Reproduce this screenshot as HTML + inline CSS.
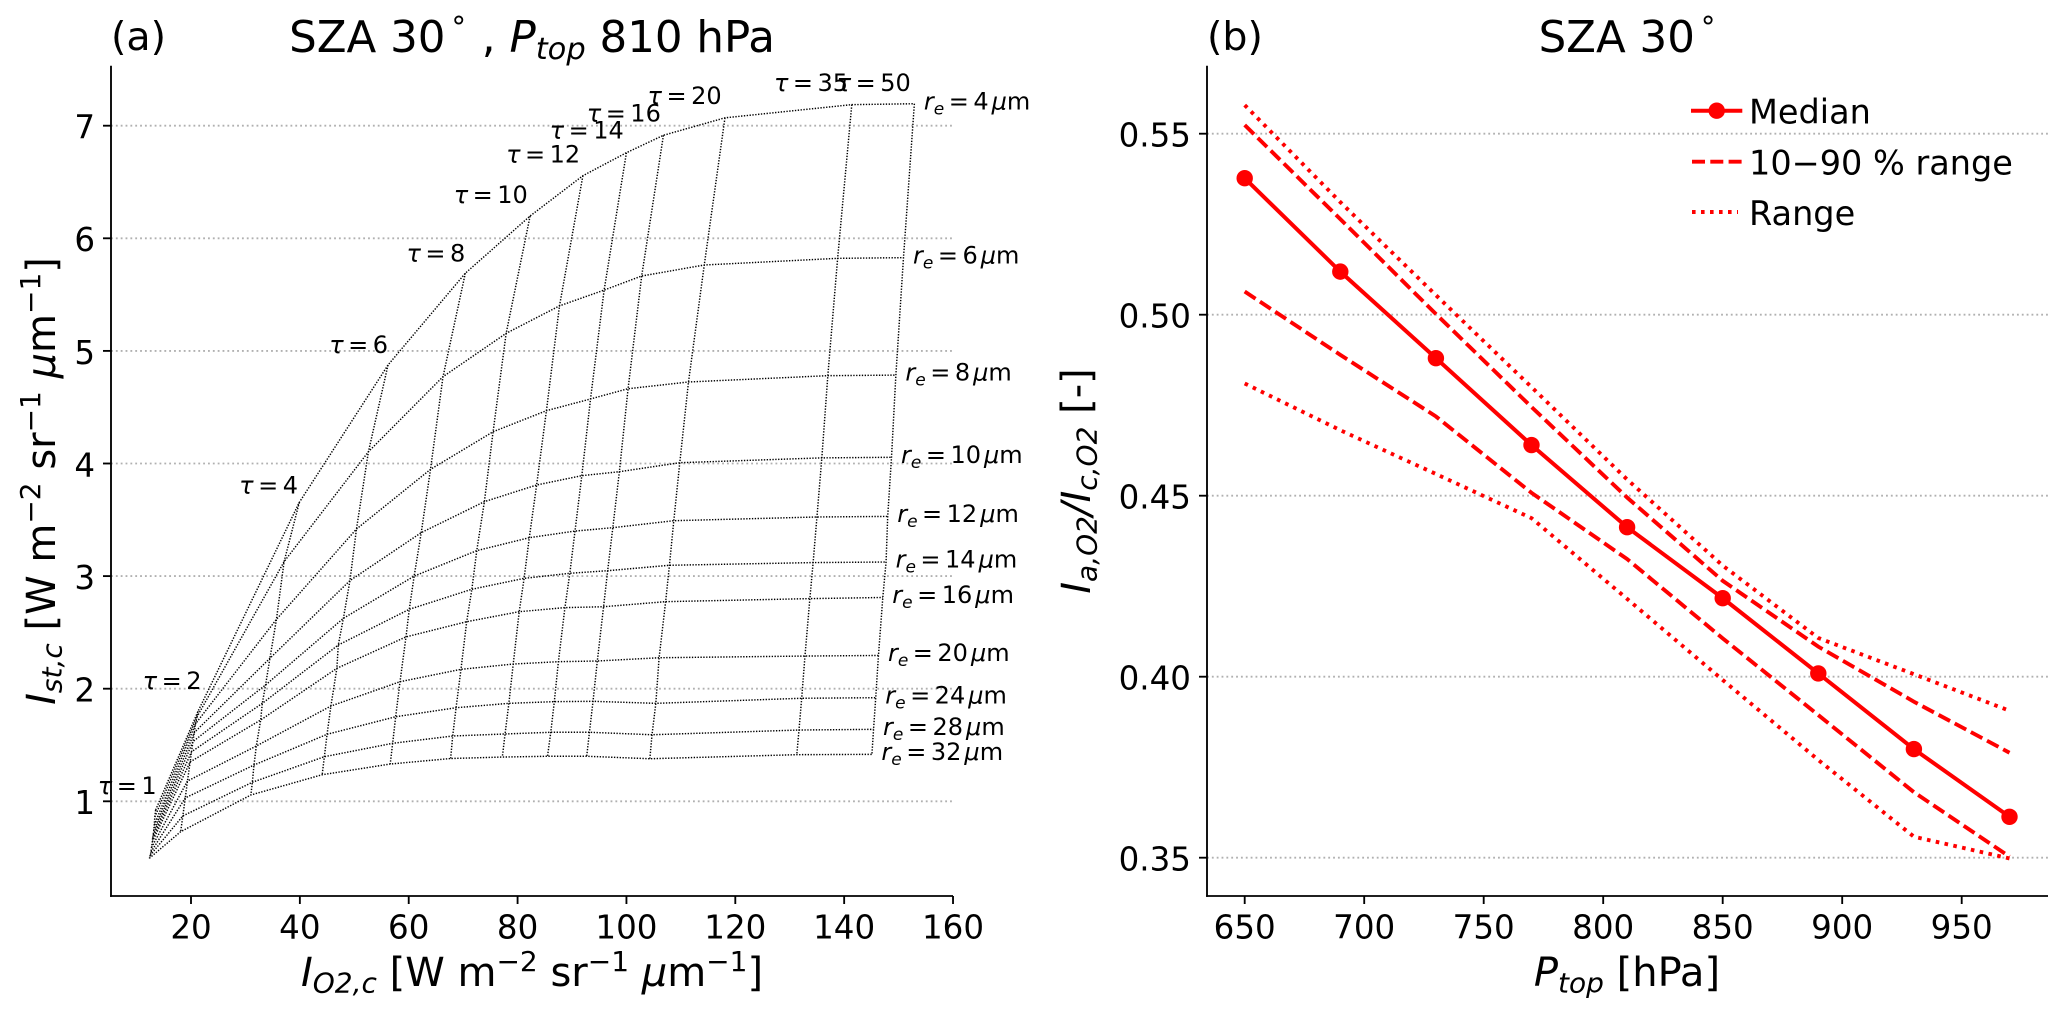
<!DOCTYPE html>
<html lang="en">
<head>
<meta charset="utf-8">
<title>SZA 30 charts</title>
<style>
html,body{margin:0;padding:0;background:#fff;}
svg{display:block;font-family:"DejaVu Sans","Liberation Sans",sans-serif;}
.i{font-style:italic;}
</style>
</head>
<body>
<svg id="figure" width="2067" height="1019" viewBox="0 0 2067 1019" xmlns="http://www.w3.org/2000/svg">
  <rect x="0" y="0" width="2067" height="1019" fill="#fff"/>
  <g id="panel-a"></g>
  <g id="panel-b"></g>

  <text x="111" y="50" font-size="39.5">(a)</text>
  <text x="532" y="52" font-size="43.5" text-anchor="middle">SZA 30<tspan font-size="29" dx="6" dy="-15">°</tspan><tspan dy="15" dx="2"> , </tspan><tspan class="i">P</tspan><tspan class="i" font-size="30.5" dy="7">top</tspan><tspan dy="-7"> 810 hPa</tspan></text>
  <text x="1207" y="50" font-size="39.5">(b)</text>
  <text x="1627" y="52" font-size="43.5" text-anchor="middle">SZA 30<tspan font-size="29" dx="6" dy="-15">°</tspan></text>

  <text x="532" y="986" font-size="40" text-anchor="middle"><tspan class="i">I</tspan><tspan class="i" font-size="28" dy="6.5">O2,c</tspan><tspan dy="-6.5"> [W m</tspan><tspan font-size="28" dy="-15">−2</tspan><tspan dy="15"> sr</tspan><tspan font-size="28" dy="-15">−1</tspan><tspan dy="15"> </tspan><tspan class="i">μ</tspan><tspan>m</tspan><tspan font-size="28" dy="-15">−1</tspan><tspan dy="15">]</tspan></text>
  <text transform="translate(55,481) rotate(-90)" font-size="40" text-anchor="middle"><tspan class="i">I</tspan><tspan class="i" font-size="28" dy="6.5">st,c</tspan><tspan dy="-6.5"> [W m</tspan><tspan font-size="28" dy="-15">−2</tspan><tspan dy="15"> sr</tspan><tspan font-size="28" dy="-15">−1</tspan><tspan dy="15"> </tspan><tspan class="i">μ</tspan><tspan>m</tspan><tspan font-size="28" dy="-15">−1</tspan><tspan dy="15">]</tspan></text>
  <text x="1627" y="986" font-size="40" text-anchor="middle"><tspan class="i">P</tspan><tspan class="i" font-size="28" dy="6.5">top</tspan><tspan dy="-6.5"> [hPa]</tspan></text>
  <text transform="translate(1090,481) rotate(-90)" font-size="40" text-anchor="middle"><tspan class="i">I</tspan><tspan class="i" font-size="28" dy="6.5">a,O2</tspan><tspan class="i" dy="-6.5">/I</tspan><tspan class="i" font-size="28" dy="6.5">c,O2</tspan><tspan dy="-6.5"> [-]</tspan></text>
</svg>
<script>
// ---------- Panel (a) data ----------
const tauValues = [1, 2, 4, 6, 8, 10, 12, 14, 16, 20, 35, 50];
const reValues = [4, 6, 8, 10, 12, 14, 16, 20, 24, 28, 32];
// I_O2,c per effective radius (rows) and optical depth (columns)
const iO2 = [
  [13.5, 21.3, 39.9, 56.2, 70.4, 82.3, 92, 100, 106.8, 118.1, 141.4, 152.9],
  [13.35, 21.1, 37.1, 52.6, 66.3, 77.9, 87.7, 95.9, 102.8, 114.3, 138.8, 150.9],
  [13.25, 20.85, 35.7, 50.4, 64, 75.5, 85.3, 93.4, 100.3, 111.4, 137, 149.5],
  [13.15, 20.6, 34.5, 49.2, 62.3, 73.9, 83.5, 91.8, 98.7, 109.8, 135.9, 148.7],
  [13.05, 20.35, 33.7, 48, 61, 72.5, 82.15, 90.55, 97.5, 108.7, 135, 148],
  [12.95, 20.1, 33.1, 47.06, 60.1, 71.6, 81.2, 89.6, 96.55, 107.9, 134.3, 147.7],
  [12.9, 19.85, 32.8, 46.8, 59.5, 70.65, 80.3, 88.7, 95.8, 107.2, 133.7, 147.1],
  [12.75, 19.35, 32, 45.7, 58.4, 69.6, 79.2, 87.5, 94.65, 106, 132.8, 146.3],
  [12.65, 18.95, 31.57, 45, 57.6, 68.7, 78.4, 86.75, 93.86, 105.4, 132.2, 145.8],
  [12.5, 18.5, 31.27, 44.5, 57.05, 68.08, 77.7, 86.1, 93.2, 104.7, 131.7, 145.4],
  [12.34, 18.1, 31, 44.1, 56.6, 67.7, 77.2, 85.5, 92.7, 104.3, 131.3, 145.1]
];
// I_st,c per effective radius (rows) and optical depth (columns)
const iSt = [
  [0.923, 1.80, 3.655, 4.875, 5.69, 6.198, 6.556, 6.76, 6.915, 7.07, 7.187, 7.195],
  [0.86, 1.75, 3.128, 4.105, 4.771, 5.156, 5.40, 5.54, 5.665, 5.763, 5.822, 5.828],
  [0.79, 1.69, 2.616, 3.418, 3.948, 4.282, 4.469, 4.573, 4.664, 4.724, 4.78, 4.785],
  [0.74, 1.61, 2.27, 2.96, 3.386, 3.661, 3.809, 3.892, 3.927, 4.007, 4.05, 4.055],
  [0.70, 1.53, 2.033, 2.625, 3.0, 3.226, 3.341, 3.40, 3.43, 3.492, 3.525, 3.53],
  [0.67, 1.44, 1.87, 2.388, 2.705, 2.883, 2.98, 3.025, 3.048, 3.096, 3.12, 3.125],
  [0.64, 1.35, 1.722, 2.181, 2.46, 2.595, 2.684, 2.72, 2.728, 2.773, 2.80, 2.81],
  [0.59, 1.18, 1.491, 1.846, 2.062, 2.172, 2.219, 2.24, 2.246, 2.275, 2.29, 2.295],
  [0.55, 1.03, 1.322, 1.595, 1.751, 1.831, 1.87, 1.885, 1.888, 1.87, 1.915, 1.92],
  [0.52, 0.87, 1.169, 1.396, 1.515, 1.58, 1.598, 1.613, 1.613, 1.591, 1.633, 1.639],
  [0.494, 0.73, 1.056, 1.236, 1.331, 1.38, 1.393, 1.40, 1.40, 1.378, 1.414, 1.417]
];
const xTicksA = [20, 40, 60, 80, 100, 120, 140, 160];
const yTicksA = [1, 2, 3, 4, 5, 6, 7];

// ---------- Panel (b) data ----------
const pTop = [650, 690, 730, 770, 810, 850, 890, 930, 970];
const median = [0.5377, 0.5119, 0.488, 0.464, 0.4413, 0.4217, 0.4009, 0.380, 0.3613];
const p90 = [0.5524, 0.5264, 0.5002, 0.4745, 0.4495, 0.4265, 0.4083, 0.3931, 0.379];
const p10 = [0.5064, 0.4889, 0.4719, 0.4508, 0.4325, 0.4106, 0.3894, 0.3681, 0.3503];
const rangeMax = [0.5579, 0.5311, 0.5054, 0.480, 0.4545, 0.4307, 0.4107, 0.4007, 0.3906];
const rangeMin = [0.4810, 0.4681, 0.456, 0.4438, 0.4215, 0.3991, 0.377, 0.3558, 0.3498];
const xTicksB = [650, 700, 750, 800, 850, 900, 950];
const yTicksB = ["0.35", "0.40", "0.45", "0.50", "0.55"];
const legendLabels = ["Median", "10−90 % range", "Range"];

// ---------- Axis functions ----------
const xA = v => 191 + (v - 20) * 5.443;
const yA = v => 801.3 - (v - 1) * 112.6;
const xB = v => 1244.7 + (v - 650) * 2.39;
const yB = v => 857.7 - (v - 0.35) * 3620;

const NS = "http://www.w3.org/2000/svg";
const panelA = document.getElementById("panel-a");
const panelB = document.getElementById("panel-b");
function mk(tag, attrs, parent, text) {
  const e = document.createElementNS(NS, tag);
  for (const k in attrs) e.setAttribute(k, attrs[k]);
  if (text !== undefined) e.textContent = text;
  parent.appendChild(e);
  return e;
}
function pts(xs, ys) {
  return xs.map((x, i) => x.toFixed(2) + "," + ys[i].toFixed(2)).join(" ");
}

function drawAxes(parent, left, right, top, bottom) {
  const sl = mk("line", {x1: left, x2: left, y1: top, y2: bottom + 0.9, stroke: "#000", "stroke-width": 1.85}, parent);
  
  
  const sb = mk("line", {x1: left - 0.9, x2: right, y1: bottom, y2: bottom, stroke: "#000", "stroke-width": 1.85}, parent);
  
  
}
function gridLine(parent, y, left, right) {
  const g = mk("line", {x1: left, x2: right, y1: y, y2: y, stroke: "#b0b0b0", "stroke-width": 1.83, "stroke-dasharray": "1.83 3.02"}, parent);
  
  
}
function yTick(parent, y, left, label) {
  const t = mk("line", {x1: left - 8, x2: left, y1: y, y2: y, stroke: "#000", "stroke-width": 1.85}, parent);
  
  
  const l = mk("text", {x: left - 16, y: y + 12.9, "font-size": 32.5, "text-anchor": "end"}, parent, label);
  
  
}
function xTick(parent, x, bottom, label) {
  const t = mk("line", {x1: x, x2: x, y1: bottom, y2: bottom + 8, stroke: "#000", "stroke-width": 1.85}, parent);
  
  
  const l = mk("text", {x: x, y: 938.3, "font-size": 32.5, "text-anchor": "middle"}, parent, label);
  
  
}

// ---------- Panel (a) ----------
yTicksA.forEach(v => gridLine(panelA, yA(v), 111, 953));
drawAxes(panelA, 111, 953, 65.7, 896);
yTicksA.forEach(v => yTick(panelA, yA(v), 111, String(v)));
xTicksA.forEach(v => xTick(panelA, xA(v), 896, String(v)));

const gridStyle = {fill: "none", stroke: "#000", "stroke-width": 1.45, "stroke-dasharray": "1.35 1.5"};
reValues.forEach((re, r) => {
  const line = mk("polyline", Object.assign({points: pts(iO2[r].map(xA), iSt[r].map(yA))}, gridStyle), panelA);
  
  
});
tauValues.forEach((tau, c) => {
  const line = mk("polyline", Object.assign({points: pts(iO2.map(row => xA(row[c])), iSt.map(row => yA(row[c])))}, gridStyle), panelA);
  
  
});

function drawTauLabels() {
  const lift = [16, 22, 9, 12, 11.6, 13, 13, 14, 13.6, 13.7, 13.7, 12.7];
  const shift = [1, 3.4, -1.3, 0, 0, -2.3, -2.7, -2.7, -2.6, -3.3, -3.7, -3.6];
  tauValues.forEach((tau, c) => {
    const t = mk("text", {x: xA(iO2[0][c]) + shift[c], y: yA(iSt[0][c]) - lift[c], "font-size": 24, "text-anchor": "end"}, panelA);
    
    
    mk("tspan", {class: "i"}, t, "τ");
    mk("tspan", {dx: 4.5}, t, "=");
    mk("tspan", {dx: 4.5}, t, String(tau));
  });
}
function drawReLabels() {
  const last = tauValues.length - 1;
  reValues.forEach((re, r) => {
    const t = mk("text", {x: xA(iO2[r][last]) + 9.5, y: yA(iSt[r][last]) + 5.6, "font-size": 24}, panelA);
    
    
    mk("tspan", {class: "i"}, t, "r");
    mk("tspan", {class: "i", "font-size": 17, dy: 5}, t, "e");
    mk("tspan", {dx: 4.5, dy: -5}, t, "=");
    mk("tspan", {dx: 4.5}, t, String(re));
    mk("tspan", {class: "i", dx: 3}, t, "μ");
    mk("tspan", {}, t, "m");
  });
}
drawTauLabels();
drawReLabels();

// ---------- Panel (b) ----------
yTicksB.forEach(v => gridLine(panelB, yB(parseFloat(v)), 1207, 2048));
drawAxes(panelB, 1207, 2048, 65.7, 896);
yTicksB.forEach(v => yTick(panelB, yB(parseFloat(v)), 1207, v));
xTicksB.forEach(v => xTick(panelB, xB(v), 896, String(v)));

const dashed = {fill: "none", stroke: "#f00", "stroke-width": 3.9, "stroke-dasharray": "13 5.3"};
const dotted = {fill: "none", stroke: "#f00", "stroke-width": 3.9, "stroke-dasharray": "3.6 5.4"};
const xsB = pTop.map(xB);

const lineMax = mk("polyline", Object.assign({points: pts(xsB, rangeMax.map(yB))}, dotted), panelB);


const lineMin = mk("polyline", Object.assign({points: pts(xsB, rangeMin.map(yB))}, dotted), panelB);


const line90 = mk("polyline", Object.assign({points: pts(xsB, p90.map(yB))}, dashed), panelB);


const line10 = mk("polyline", Object.assign({points: pts(xsB, p10.map(yB))}, dashed), panelB);


const lineMed = mk("polyline", {points: pts(xsB, median.map(yB)), fill: "none", stroke: "#f00", "stroke-width": 4}, panelB);


median.forEach((v, i) => {
  const c = mk("circle", {cx: xB(pTop[i]), cy: yB(v), r: 8.2, fill: "#f00"}, panelB);
  
  
});

// ---------- Legend ----------
const legend = mk("g", {}, panelB);


const legendRowY = [110.7, 161.7, 212];
const h0 = mk("line", {x1: 1691, x2: 1742.3, y1: legendRowY[0], y2: legendRowY[0], stroke: "#f00", "stroke-width": 4}, legend);


const h0m = mk("circle", {cx: 1716.7, cy: legendRowY[0], r: 8.2, fill: "#f00"}, legend);


const h1 = mk("line", Object.assign({x1: 1692, x2: 1742.3, y1: legendRowY[1], y2: legendRowY[1]}, dashed), legend);


const h2 = mk("line", Object.assign({x1: 1692, x2: 1738, y1: legendRowY[2], y2: legendRowY[2]}, dotted), legend);


legendLabels.forEach((label, i) => {
  const t = mk("text", {x: 1749, y: legendRowY[i] + 13, "font-size": 33.5}, legend, label);
  
  
});
</script>
</body>
</html>
